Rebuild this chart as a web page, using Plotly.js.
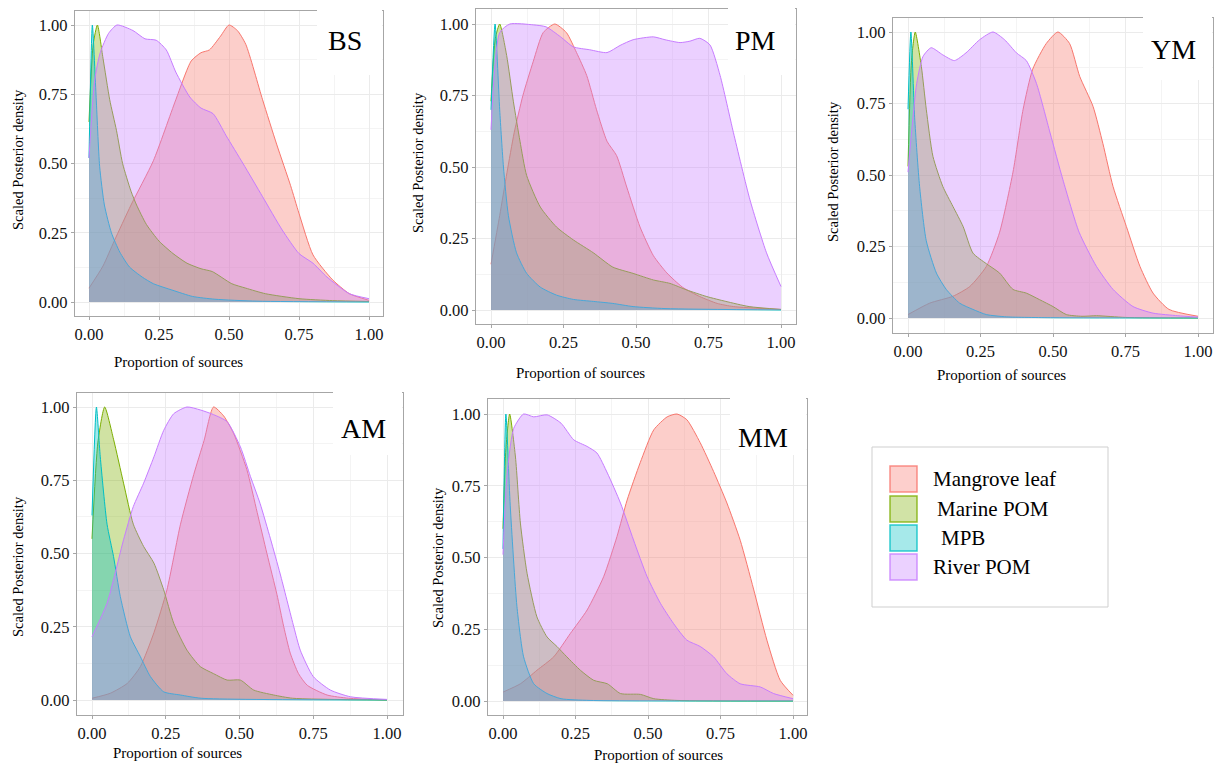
<!DOCTYPE html>
<html>
<head>
<meta charset="utf-8">
<script src="https://cdn.plot.ly/plotly-3.0.1.min.js"></script>
<style>html,body{margin:0;padding:0;background:#fff;}#chart{width:1222px;height:765px;}</style>
</head>
<body>
<div id="chart"></div>
<script>
// ---------- DATA ----------
const seriesNames = ['Mangrove leaf', 'Marine POM', 'MPB', 'River POM'];
const panelNames = ['BS', 'PM', 'YM', 'AM', 'MM'];
const tickValues = [0, 0.25, 0.5, 0.75, 1];
const tickLabels = ['0.00', '0.25', '0.50', '0.75', '1.00'];
const xTitle = 'Proportion of sources';
const yTitle = 'Scaled Posterior density';

// BS
const bsMangroveX = [0, 0.05, 0.09, 0.15, 0.23, 0.31, 0.365, 0.40, 0.43, 0.47, 0.50, 0.53, 0.56, 0.62, 0.67, 0.72, 0.75, 0.80, 0.87, 0.93, 1.0];
const bsMangroveY = [0.05, 0.13, 0.22, 0.35, 0.51, 0.73, 0.87, 0.90, 0.91, 0.96, 1.0, 0.98, 0.93, 0.73, 0.57, 0.42, 0.32, 0.17, 0.08, 0.03, 0.006];
const bsMarineX = [0, 0.015, 0.03, 0.05, 0.074, 0.098, 0.12, 0.15, 0.17, 0.205, 0.25, 0.30, 0.35, 0.40, 0.44, 0.51, 0.56, 0.63, 0.75, 0.87, 1.0];
const bsMarineY = [0.65, 0.93, 1.0, 0.88, 0.73, 0.62, 0.50, 0.40, 0.35, 0.28, 0.22, 0.175, 0.14, 0.12, 0.11, 0.066, 0.05, 0.03, 0.012, 0.005, 0.002];
const bsMpbX = [0, 0.012, 0.025, 0.038, 0.055, 0.08, 0.11, 0.145, 0.19, 0.23, 0.30, 0.37, 0.45, 0.6, 1.0];
const bsMpbY = [0.52, 1.0, 0.75, 0.49, 0.35, 0.25, 0.18, 0.126, 0.09, 0.066, 0.042, 0.02, 0.01, 0.003, 0];
const bsRiverX = [0, 0.02, 0.04, 0.07, 0.10, 0.157, 0.20, 0.24, 0.276, 0.31, 0.36, 0.40, 0.443, 0.49, 0.55, 0.62, 0.69, 0.75, 0.80, 0.85, 0.93, 1.0];
const bsRiverY = [0.52, 0.8, 0.9, 0.97, 1.0, 0.98, 0.95, 0.945, 0.91, 0.83, 0.74, 0.70, 0.68, 0.6, 0.5, 0.38, 0.26, 0.175, 0.14, 0.09, 0.03, 0.012];

// PM
const pmMangroveX = [0, 0.03, 0.055, 0.08, 0.11, 0.146, 0.18, 0.22, 0.26, 0.295, 0.33, 0.364, 0.40, 0.433, 0.468, 0.514, 0.56, 0.606, 0.66, 0.72, 0.78, 0.836, 1.0];
const pmMangroveY = [0.16, 0.33, 0.48, 0.62, 0.75, 0.87, 0.97, 1.0, 0.97, 0.9, 0.82, 0.70, 0.59, 0.54, 0.43, 0.29, 0.19, 0.13, 0.08, 0.047, 0.023, 0.012, 0.002];
const pmMarineX = [0, 0.015, 0.03, 0.054, 0.077, 0.1, 0.123, 0.17, 0.226, 0.284, 0.353, 0.42, 0.49, 0.56, 0.617, 0.675, 0.744, 0.81, 0.89, 1.0];
const pmMarineY = [0.73, 0.95, 1.0, 0.89, 0.73, 0.59, 0.47, 0.36, 0.29, 0.245, 0.2, 0.15, 0.128, 0.105, 0.093, 0.07, 0.047, 0.03, 0.012, 0.002];
const pmMpbX = [0, 0.014, 0.03, 0.043, 0.06, 0.088, 0.123, 0.17, 0.226, 0.284, 0.353, 0.42, 0.49, 0.6, 1.0];
const pmMpbY = [0.7, 1.0, 0.7, 0.5, 0.33, 0.2, 0.128, 0.08, 0.052, 0.037, 0.03, 0.023, 0.012, 0.005, 0];
const pmRiverX = [0, 0.03, 0.065, 0.146, 0.19, 0.24, 0.284, 0.34, 0.40, 0.445, 0.49, 0.56, 0.60, 0.652, 0.686, 0.72, 0.755, 0.79, 0.836, 0.893, 0.95, 1.0];
const pmRiverY = [0.63, 0.97, 1.0, 0.997, 0.99, 0.955, 0.92, 0.91, 0.9, 0.925, 0.945, 0.955, 0.945, 0.935, 0.94, 0.95, 0.927, 0.82, 0.62, 0.385, 0.2, 0.082];

// YM
const ymMangroveX = [0, 0.075, 0.155, 0.213, 0.27, 0.316, 0.362, 0.397, 0.43, 0.477, 0.517, 0.557, 0.592, 0.638, 0.672, 0.707, 0.753, 0.8, 0.845, 0.9, 1.0];
const ymMangroveY = [0.012, 0.052, 0.076, 0.11, 0.18, 0.3, 0.51, 0.73, 0.87, 0.96, 1.0, 0.96, 0.845, 0.74, 0.61, 0.46, 0.32, 0.18, 0.087, 0.03, 0.006];
const ymMarineX = [0, 0.012, 0.025, 0.046, 0.063, 0.086, 0.12, 0.155, 0.19, 0.224, 0.27, 0.316, 0.362, 0.408, 0.454, 0.5, 0.546, 0.6, 0.65, 0.75, 1.0];
const ymMarineY = [0.53, 0.9, 1.0, 0.88, 0.73, 0.565, 0.46, 0.39, 0.32, 0.227, 0.19, 0.157, 0.1, 0.087, 0.064, 0.04, 0.012, 0.006, 0.008, 0.002, 0];
const ymMpbX = [0, 0.01, 0.023, 0.04, 0.063, 0.098, 0.132, 0.178, 0.224, 0.27, 0.34, 0.5, 1.0];
const ymMpbY = [0.73, 1.0, 0.7, 0.46, 0.27, 0.157, 0.1, 0.052, 0.03, 0.012, 0.004, 0.001, 0];
const ymRiverX = [0, 0.03, 0.052, 0.08, 0.12, 0.16, 0.2, 0.247, 0.293, 0.333, 0.374, 0.408, 0.443, 0.49, 0.534, 0.59, 0.65, 0.707, 0.776, 0.845, 0.93, 1.0];
const ymRiverY = [0.51, 0.82, 0.915, 0.945, 0.92, 0.9, 0.927, 0.973, 1.0, 0.973, 0.927, 0.9, 0.82, 0.647, 0.484, 0.3, 0.18, 0.1, 0.04, 0.017, 0.008, 0.003];

// AM
const amMangroveX = [0, 0.062, 0.12, 0.164, 0.21, 0.254, 0.3, 0.345, 0.38, 0.412, 0.446, 0.48, 0.525, 0.56, 0.593, 0.627, 0.65, 0.672, 0.70, 0.73, 0.797, 0.87, 1.0];
const amMangroveY = [0.006, 0.023, 0.057, 0.114, 0.23, 0.376, 0.6, 0.77, 0.886, 1.0, 0.97, 0.91, 0.786, 0.64, 0.5, 0.36, 0.25, 0.16, 0.09, 0.05, 0.017, 0.006, 0];
const amMarineX = [0, 0.02, 0.043, 0.073, 0.107, 0.14, 0.175, 0.21, 0.243, 0.277, 0.322, 0.367, 0.412, 0.458, 0.503, 0.548, 0.616, 0.68, 1.0];
const amMarineY = [0.55, 0.88, 1.0, 0.89, 0.74, 0.6, 0.524, 0.467, 0.376, 0.262, 0.17, 0.114, 0.09, 0.068, 0.068, 0.034, 0.017, 0.006, 0];
const amMpbX = [0, 0.015, 0.028, 0.051, 0.073, 0.096, 0.13, 0.164, 0.198, 0.243, 0.3, 0.37, 1.0];
const amMpbY = [0.63, 1.0, 0.83, 0.6, 0.49, 0.353, 0.216, 0.148, 0.08, 0.028, 0.017, 0.006, 0];
const amRiverX = [0, 0.051, 0.107, 0.14, 0.175, 0.21, 0.243, 0.277, 0.322, 0.367, 0.412, 0.458, 0.503, 0.537, 0.57, 0.605, 0.638, 0.684, 0.706, 0.75, 0.808, 0.876, 1.0];
const amRiverY = [0.216, 0.33, 0.547, 0.66, 0.74, 0.83, 0.92, 0.977, 1.0, 0.99, 0.974, 0.95, 0.864, 0.763, 0.67, 0.55, 0.43, 0.25, 0.17, 0.08, 0.034, 0.011, 0.002];

// MM
const mmMangroveX = [0, 0.06, 0.117, 0.175, 0.232, 0.29, 0.347, 0.393, 0.428, 0.473, 0.52, 0.566, 0.6, 0.634, 0.68, 0.726, 0.772, 0.818, 0.864, 0.91, 0.956, 1.0];
const mmMangroveY = [0.031, 0.06, 0.107, 0.154, 0.235, 0.317, 0.433, 0.573, 0.7, 0.83, 0.945, 0.99, 1.0, 0.98, 0.9, 0.8, 0.69, 0.56, 0.39, 0.212, 0.072, 0.02];
const mmMarineX = [0, 0.01, 0.023, 0.043, 0.06, 0.083, 0.117, 0.152, 0.186, 0.22, 0.267, 0.313, 0.36, 0.405, 0.474, 0.52, 0.6, 1.0];
const mmMarineY = [0.6, 0.88, 1.0, 0.85, 0.62, 0.445, 0.293, 0.223, 0.19, 0.154, 0.107, 0.072, 0.06, 0.026, 0.023, 0.008, 0.002, 0];
const mmMpbX = [0, 0.01, 0.025, 0.048, 0.071, 0.106, 0.152, 0.2, 0.3, 1.0];
const mmMpbY = [0.53, 1.0, 0.68, 0.33, 0.154, 0.06, 0.026, 0.008, 0.002, 0];
const mmRiverX = [0, 0.014, 0.037, 0.071, 0.106, 0.152, 0.2, 0.244, 0.29, 0.324, 0.36, 0.405, 0.45, 0.497, 0.543, 0.588, 0.634, 0.68, 0.726, 0.772, 0.818, 0.887, 0.933, 1.0];
const mmRiverY = [0.51, 0.79, 0.95, 1.0, 0.99, 0.997, 0.968, 0.91, 0.887, 0.864, 0.794, 0.69, 0.561, 0.433, 0.34, 0.27, 0.212, 0.19, 0.154, 0.095, 0.06, 0.049, 0.026, 0.008];

const panelData = {
  BS: [[bsMangroveX, bsMangroveY], [bsMarineX, bsMarineY], [bsMpbX, bsMpbY], [bsRiverX, bsRiverY]],
  PM: [[pmMangroveX, pmMangroveY], [pmMarineX, pmMarineY], [pmMpbX, pmMpbY], [pmRiverX, pmRiverY]],
  YM: [[ymMangroveX, ymMangroveY], [ymMarineX, ymMarineY], [ymMpbX, ymMpbY], [ymRiverX, ymRiverY]],
  AM: [[amMangroveX, amMangroveY], [amMarineX, amMarineY], [amMpbX, amMpbY], [amRiverX, amRiverY]],
  MM: [[mmMangroveX, mmMangroveY], [mmMarineX, mmMarineY], [mmMpbX, mmMpbY], [mmRiverX, mmRiverY]]
};

// ---------- STYLE / LAYOUT ----------
const W = 1222, H = 765;
const FONT = 'Liberation Serif';
const colors = ['#F8766D', '#7CAE00', '#00BFC4', '#C77CFF'];
const fillAlpha = 0.36;
function rgba(hex, a) {
  const r = parseInt(hex.slice(1, 3), 16), g = parseInt(hex.slice(3, 5), 16), b = parseInt(hex.slice(5, 7), 16);
  return `rgba(${r},${g},${b},${a})`;
}
// pixel geometry of each panel: frame (L,R,T,B) and pixel of data 0/1
const geom = {
  BS: {L: 75, R: 383, T: 11, B: 316, x0: 89, x1: 369, y0: 302, y1: 25,
       xt: [178, 362], yt: [18, 160], lab: [345, 40], box: [317, 382, 9, 75]},
  PM: {L: 476, R: 796, T: 9, B: 324, x0: 491, x1: 781, y0: 310, y1: 24,
       xt: [580, 373], yt: [418, 163], lab: [755, 40], box: [728, 795, 7, 75]},
  YM: {L: 893, R: 1213, T: 18, B: 333, x0: 908, x1: 1198, y0: 318, y1: 32,
       xt: [1002, 375], yt: [833, 172], lab: [1173, 50], box: [1143, 1212, 16, 80]},
  AM: {L: 77, R: 403, T: 393, B: 715, x0: 92, x1: 387, y0: 700, y1: 407,
       xt: [177, 753], yt: [18, 567], lab: [363, 428], box: [333, 402, 391, 455]},
  MM: {L: 488, R: 807, T: 399, B: 715, x0: 503, x1: 793, y0: 701, y1: 414,
       xt: [658, 755], yt: [438, 557], lab: [763, 437], box: [730, 806, 397, 455]}
};
const px = v => v / W, py = v => 1 - v / H;

const traces = [];
const layout = {
  width: W, height: H,
  margin: {l: 0, r: 0, t: 0, b: 0},
  paper_bgcolor: '#ffffff', plot_bgcolor: '#ffffff',
  showlegend: false,
  font: {family: FONT, color: '#1a1a1a', size: 16},
  shapes: [], annotations: []
};

panelNames.forEach((p, i) => {
  const g = geom[p];
  const sfx = i === 0 ? '' : String(i + 1);
  const xa = 'x' + sfx, ya = 'y' + sfx;
  const axCommon = {
    tickvals: tickValues, ticktext: tickLabels,
    showgrid: true, gridcolor: '#EBEBEB', gridwidth: 1,
    minor: {dtick: 0.125, tick0: 0, showgrid: true, gridcolor: '#F4F4F4', gridwidth: 1},
    zeroline: false, showline: true, mirror: true, linecolor: '#A6A6A6', linewidth: 1.2,
    ticks: 'outside', ticklen: 3, tickcolor: '#A6A6A6',
    tickfont: {family: FONT, size: 16.5, color: '#111111'},
    fixedrange: true
  };
  layout['xaxis' + sfx] = Object.assign({}, axCommon, {
    domain: [px(g.L), px(g.R)],
    range: [(g.L - g.x0) / (g.x1 - g.x0), (g.R - g.x0) / (g.x1 - g.x0)],
    anchor: ya
  });
  layout['yaxis' + sfx] = Object.assign({}, axCommon, {
    domain: [py(g.B), py(g.T)],
    range: [(g.y0 - g.B) / (g.y0 - g.y1), (g.y0 - g.T) / (g.y0 - g.y1)],
    anchor: xa
  });
  panelData[p].forEach((xy, s) => {
    traces.push({
      type: 'scatter', mode: 'lines', x: xy[0], y: xy[1], xaxis: xa, yaxis: ya,
      name: seriesNames[s], fill: 'tozeroy', fillcolor: rgba(colors[s], fillAlpha),
      line: {color: colors[s], width: 1, shape: 'spline', smoothing: 0.6},
      hoverinfo: 'skip'
    });
  });
  // white label box
  layout.shapes.push({type: 'rect', xref: 'paper', yref: 'paper', layer: 'above',
    x0: px(g.box[0]), x1: px(g.box[1]), y0: py(g.box[3]), y1: py(g.box[2]),
    fillcolor: '#ffffff', line: {width: 0}});
  layout.annotations.push({xref: 'paper', yref: 'paper', x: px(g.lab[0]), y: py(g.lab[1]),
    text: p, showarrow: false, xanchor: 'center', yanchor: 'middle',
    font: {family: FONT, size: 28, color: '#000'}});
  layout.annotations.push({xref: 'paper', yref: 'paper', x: px(g.xt[0]), y: py(g.xt[1]),
    text: xTitle, showarrow: false, xanchor: 'center', yanchor: 'middle',
    font: {family: FONT, size: 15, color: '#000'}});
  layout.annotations.push({xref: 'paper', yref: 'paper', x: px(g.yt[0]), y: py(g.yt[1]),
    text: yTitle, showarrow: false, xanchor: 'center', yanchor: 'middle', textangle: -90,
    font: {family: FONT, size: 14.5, color: '#000'}});
});

// legend (manual)
layout.shapes.push({type: 'rect', xref: 'paper', yref: 'paper', layer: 'above',
  x0: px(872), x1: px(1108), y0: py(607), y1: py(447),
  fillcolor: 'rgba(0,0,0,0)', line: {color: '#CFCFCF', width: 1}});
const legTop = [466, 496, 525, 554];
const legTextDx = [0, 4, 8, 0];
seriesNames.forEach((n, s) => {
  layout.shapes.push({type: 'rect', xref: 'paper', yref: 'paper', layer: 'above',
    x0: px(890), x1: px(917), y0: py(legTop[s] + 26), y1: py(legTop[s]),
    fillcolor: rgba(colors[s], 0.35), line: {color: rgba(colors[s], 0.8), width: 1.5}});
  layout.annotations.push({xref: 'paper', yref: 'paper', x: px(931 + legTextDx[s]), y: py(legTop[s] + 13),
    text: n, showarrow: false, xanchor: 'left', yanchor: 'middle',
    font: {family: FONT, size: 21, color: '#000'}});
});

Plotly.newPlot('chart', traces, layout, {staticPlot: true, displayModeBar: false});
</script>
</body>
</html>
